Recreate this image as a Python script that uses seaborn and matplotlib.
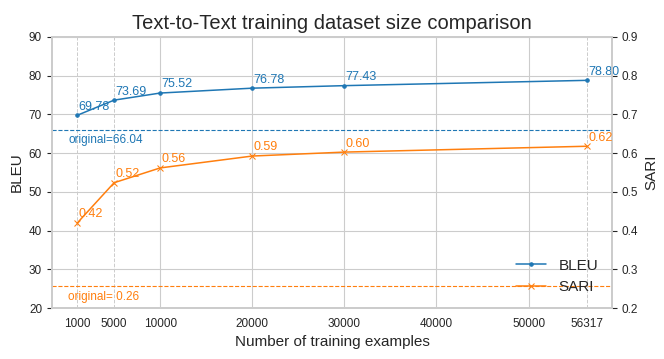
import matplotlib
matplotlib.use("Agg")
import matplotlib.pyplot as plt
import pandas as pd
import seaborn as sns

# data
train_sizes = [1000, 5000, 10000, 20000, 30000, 56317]
bleu_scores = [69.78, 73.69, 75.52, 76.78, 77.43, 78.80]
sari_scores = [0.4196, 0.5236, 0.5618, 0.5925, 0.6027, 0.6178]
bleu_original = 66.04
sari_original = 0.257
x_ticks = [1000, 5000, 10000, 20000, 30000, 40000, 50000, 56317]

sns.set_style("whitegrid")
plt.rcParams["font.family"] = ["Liberation Sans Narrow", "Liberation Sans", "DejaVu Sans"]
plt.rcParams.update({"axes.edgecolor": ".8", "axes.linewidth": 1.25,
                     "grid.color": ".8", "text.color": ".15"})

blue, orange = "#1f77b4", "#ff7f0e"
df = pd.DataFrame({"size": train_sizes, "BLEU": bleu_scores, "SARI": sari_scores})

fig = plt.figure(figsize=(6.64, 3.59), dpi=100)
ax = fig.add_axes([0.078, 0.142, 0.844, 0.755])
ax2 = ax.twinx()

sns.lineplot(data=df, x="size", y="BLEU", ax=ax, color=blue, marker=".",
             markersize=5, linewidth=1.1, markeredgecolor=blue, label="BLEU", legend=False)
sns.lineplot(data=df, x="size", y="SARI", ax=ax2, color=orange, marker="x",
             markersize=5, linewidth=1.1, markeredgecolor=orange, label="SARI", legend=False)

for x, y in zip(train_sizes, bleu_scores):
    ax.annotate(f"{y:.2f}", (x, y), xytext=(1, 4), textcoords="offset points",
                color=blue, fontsize=9)
for x, y in zip(train_sizes, sari_scores):
    ax2.annotate(f"{y:.2f}", (x, y), xytext=(1, 4), textcoords="offset points",
                 color=orange, fontsize=9)

ax.axhline(bleu_original, color=blue, linestyle="--", linewidth=0.8)
ax.text(0, bleu_original - 1.2, f"original={bleu_original:.2f}", color=blue,
        fontsize=8.5, va="top")
ax2.axhline(sari_original, color=orange, linestyle="--", linewidth=0.8)
ax2.text(0, sari_original - 0.012, f"original= {sari_original:.2f}", color=orange,
         fontsize=8.5, va="top")

ax.set_ylim(20, 90)
ax2.set_ylim(0.2, 0.9)
ax.set_xticks(x_ticks)
ax.set_xticklabels([str(t) for t in x_ticks])
ax.tick_params(labelsize=8.5, colors=".15")
ax2.tick_params(labelsize=8.5, colors=".15")
ax2.grid(False)
for t, gl in zip(x_ticks, ax.get_xgridlines()):
    if t % 10000:
        gl.set_linestyle("--")
        gl.set_linewidth(0.7)

ax.set_xlabel("Number of training examples", fontsize=11)
ax.set_ylabel("BLEU", fontsize=11)
ax2.set_ylabel("SARI", fontsize=11)
ax.set_title("Text-to-Text training dataset size comparison", fontsize=14.5)

h1, l1 = ax.get_legend_handles_labels()
h2, l2 = ax2.get_legend_handles_labels()
ax2.legend(h1 + h2, l1 + l2, loc="lower right", frameon=False, fontsize=11)

fig.savefig("out.png", dpi=100)
plt.close(fig)
